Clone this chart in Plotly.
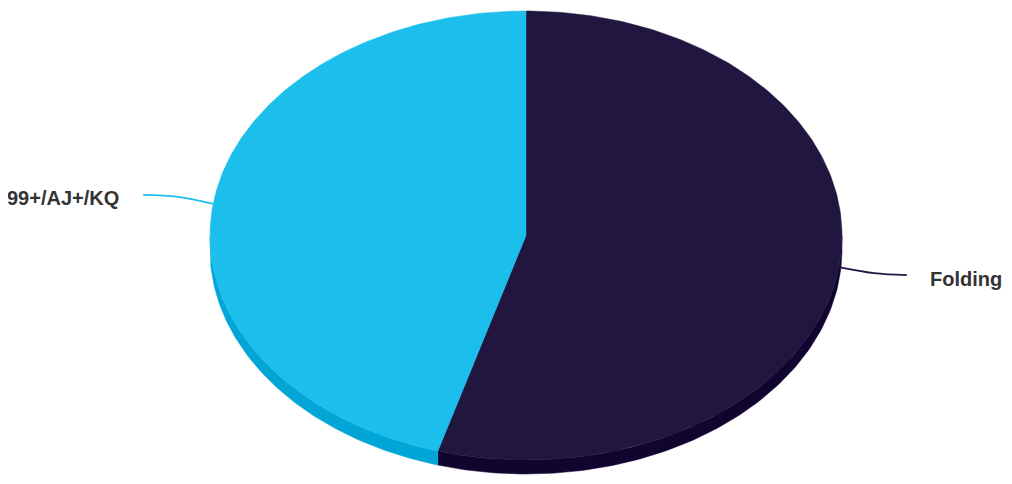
import numpy as np
import plotly.graph_objects as go

# Chart data
labels = ["Folding", "99+/AJ+/KQ"]
values = [54.5, 45.5]

# Styles
top_colors = ["#21163f", "#1cbeec"]
side_colors = ["#110530", "#02a6d6"]
label_color = "#333333"

# 3D pie geometry (pixel space of the window)
CX, CY = 526, 235.5
RX, RY = 316, 224.5
DEPTH = 14
PAGE_OFFSET = 8  # browser body margin


def ellipse_pts(t0, t1, dy=0, n=120):
    t = np.linspace(t0, t1, n)
    return CX + RX * np.sin(t), CY - RY * np.cos(t) + dy


fig = go.Figure()

fractions = np.array(values) / np.sum(values)
starts = np.concatenate([[0], np.cumsum(fractions)[:-1]]) * 2 * np.pi
ends = np.cumsum(fractions) * 2 * np.pi

# side walls first (front half of the pie: 90deg .. 270deg)
for i in range(len(values)):
    a = max(starts[i], np.pi / 2)
    b = min(ends[i], 3 * np.pi / 2)
    if b <= a:
        continue
    xt, yt = ellipse_pts(a, b)
    xb, yb = ellipse_pts(b, a, dy=DEPTH)
    fig.add_trace(go.Scatter(
        x=np.concatenate([xt, xb, xt[:1]]),
        y=np.concatenate([yt, yb, yt[:1]]),
        mode="lines", fill="toself",
        fillcolor=side_colors[i],
        line=dict(color=side_colors[i], width=0.5),
        hoverinfo="skip", showlegend=False
    ))

# top slices
for i in range(len(values)):
    xa, ya = ellipse_pts(starts[i], ends[i], n=240)
    fig.add_trace(go.Scatter(
        x=np.concatenate([[CX], xa, [CX]]),
        y=np.concatenate([[CY], ya, [CY]]),
        mode="lines", fill="toself",
        fillcolor=top_colors[i],
        line=dict(color=top_colors[i], width=0.5),
        name=labels[i],
        text="%s: %.1f%%" % (labels[i], values[i]),
        hoverinfo="text", hoveron="fills", showlegend=False
    ))

# connectors and data labels
for i in range(len(values)):
    mid = (starts[i] + ends[i]) / 2
    ex, ey = CX + RX * np.sin(mid), CY - RY * np.cos(mid)
    if np.sin(mid) > 0:
        cx_pts = [ex, ex + 35, ex + 68]
        cy_pts = [ey, ey + 6, ey + 8]
        lx, ly, anchor = ex + 89, ey + 12, "left"
    else:
        cx_pts = [ex, ex - 35, ex - 70]
        cy_pts = [ey, ey - 7, ey - 9]
        lx, ly, anchor = ex - 92, ey - 6, "right"
    fig.add_trace(go.Scatter(
        x=cx_pts, y=cy_pts,
        mode="lines", line=dict(color=top_colors[i], width=1.6, shape="spline"),
        hoverinfo="skip", showlegend=False
    ))
    fig.add_annotation(
        x=lx, y=ly, text=labels[i], showarrow=False,
        xanchor=anchor, yanchor="middle",
        font=dict(family="Liberation Sans, Arial", size=20, color=label_color, weight="bold")
    )

fig.update_layout(
    width=1012, height=484,
    margin=dict(l=0, r=0, t=0, b=0),
    paper_bgcolor="white", plot_bgcolor="white",
    xaxis=dict(range=[PAGE_OFFSET, 1012 + PAGE_OFFSET], visible=False, fixedrange=True),
    yaxis=dict(range=[484 + PAGE_OFFSET, PAGE_OFFSET], visible=False, fixedrange=True),
    showlegend=False
)

fig.write_html("out.html")
